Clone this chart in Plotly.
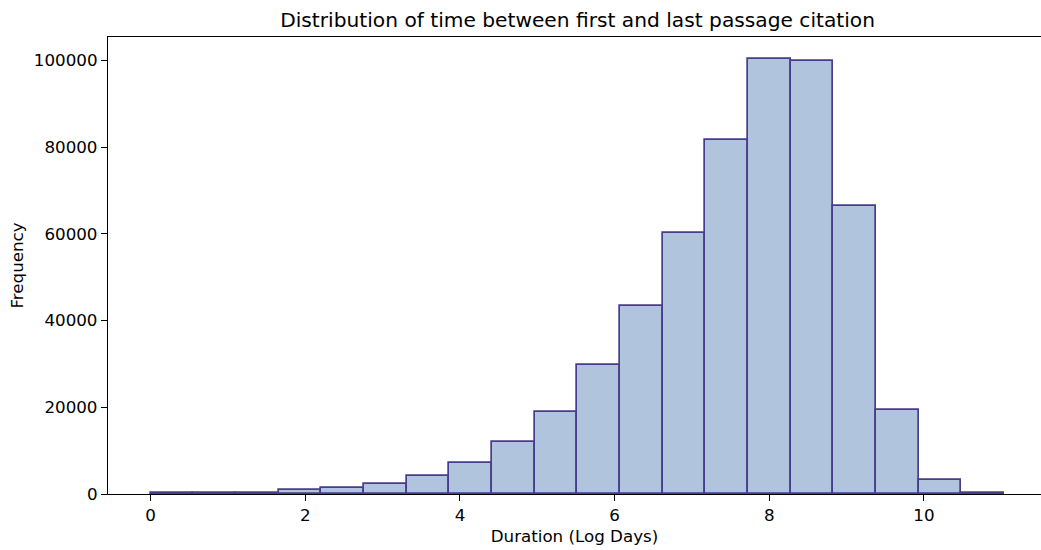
import plotly.graph_objects as go

# Histogram data
bin_min = 0.0
bin_max = 11.035
n_bins = 20
counts = [300, 250, 300, 1000, 1400, 2300, 4100, 7200, 12100, 18900,
          29700, 43400, 60200, 81600, 100400, 100000, 66400, 19350, 3150, 250]
x_ticks = [0, 2, 4, 6, 8, 10]
y_ticks = [0, 20000, 40000, 60000, 80000, 100000]

bw = (bin_max - bin_min) / n_bins
centers = [bin_min + bw * (i + 0.5) for i in range(n_bins)]

fig = go.Figure(go.Bar(
    x=centers, y=counts, width=[bw] * n_bins,
    marker=dict(color="#B0C4DE", line=dict(color="#483D8B", width=1.7)),
))

W, H = 1041, 550
L, R, T, B = 108, 0, 37, 56
px_per_unit = 77.33
x0 = -0.5517
x1 = x0 + (W - L - R) / px_per_unit

font = "DejaVu Sans"
fig.update_layout(
    width=W, height=H,
    margin=dict(l=L, r=R, t=T, b=B, autoexpand=False),
    plot_bgcolor="white", paper_bgcolor="white",
    showlegend=False, bargap=0,
    font=dict(family=font, size=16.7, color="black"),
    title=dict(text="Distribution of time between first and last passage citation",
               x=(577.6 - L) / (W - L - R), xref="paper", xanchor="center",
               y=1 - 20 / H, yref="container", yanchor="middle",
               font=dict(family=font, size=20.2, color="black")),
    xaxis=dict(range=[x0, x1], tickvals=x_ticks, ticks="outside", ticklen=6,
               tickwidth=1.3, tickcolor="black", showline=True, linecolor="black",
               linewidth=1.3, mirror=True, showgrid=False, zeroline=False,
               automargin=False,
               title=dict(text="Duration (Log Days)", standoff=6,
                          font=dict(family=font, size=16.7))),
    yaxis=dict(range=[0, 105420], tickvals=y_ticks, tickformat="d",
               ticks="outside", ticklen=6,
               tickwidth=1.3, tickcolor="black", showline=True, linecolor="black",
               linewidth=1.3, showgrid=False, zeroline=False, automargin=False,
               title=dict(text="Frequency", standoff=5,
                          font=dict(family=font, size=16.7))),
)

fig.write_html("out.html", config={"displayModeBar": False},
               post_script="document.body.style.margin='0';"
                           "document.body.style.overflow='hidden';")
